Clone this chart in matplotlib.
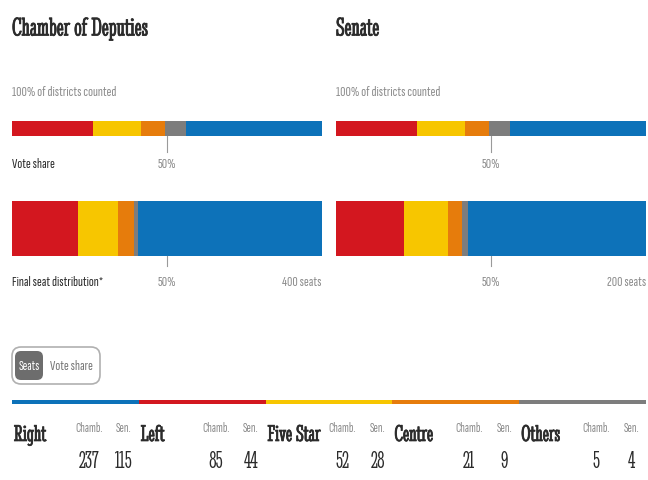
import matplotlib
matplotlib.use("Agg")
import matplotlib.pyplot as plt
from matplotlib import transforms
from matplotlib import patheffects
from matplotlib.patches import FancyBboxPatch

# Italian general election results
parties = ["Right", "Left", "Five Star", "Centre", "Others"]
chamber_seats = [237, 85, 52, 21, 5]
senate_seats = [115, 44, 28, 9, 4]
chamber_votes = [43.8, 26.1, 15.4, 7.8, 6.9]
senate_votes = [44.0, 26.0, 15.6, 7.7, 6.7]
chamber_total = 400
senate_total = 200

colors = {"Right": "#0d72b9", "Left": "#d3171f", "Five Star": "#f7c600",
          "Centre": "#e67c0c", "Others": "#7d7d7d"}
bar_order = ["Left", "Five Star", "Centre", "Others", "Right"]

SERIF = "Stint Ultra Condensed"
SANS = "Sofia Sans Extra Condensed"
GREY = "#8c8c8c"
DARK = "#2b2b2b"
# the serif only ships in one weight, so thicken it a little
heavy = [patheffects.withStroke(linewidth=0.5, foreground=DARK)]

W, H = 648, 481
fig = plt.figure(figsize=(W / 100, H / 100), dpi=100)

# overlay axes in pixel coordinates for the text furniture
bg = fig.add_axes([0, 0, 1, 1])
bg.set_xlim(0, W)
bg.set_ylim(H, 0)
bg.axis("off")


def box(x0, y0, x1, y1):
    return [x0 / W, 1 - y1 / H, (x1 - x0) / W, (y1 - y0) / H]


def stacked(ax, values, total):
    left = 0
    for p in bar_order:
        v = values[parties.index(p)]
        ax.barh(0, v, left=left, height=1, color=colors[p], linewidth=0)
        left += v
    ax.set_xlim(0, total)
    ax.set_ylim(-0.5, 0.5)
    ax.axis("off")


def half_mark(ax, total, y_top, y_bot, y_text, label="50%"):
    tr = transforms.blended_transform_factory(ax.transData, bg.transData)
    ax.plot([total / 2, total / 2], [y_top, y_bot], color="#9a9a9a", lw=0.8,
            transform=tr, clip_on=False)
    ax.text(total / 2, y_text, label, transform=tr, ha="center", va="center",
            family=SANS, weight="light", fontsize=10.5, color=GREY)


houses = [("Chamber of Deputies", 12, chamber_votes, chamber_seats, chamber_total),
          ("Senate", 336, senate_votes, senate_seats, senate_total)]

for title, x0, votes, seats, total in houses:
    bg.text(x0, 30, title, family=SERIF, fontsize=19, color=DARK, va="center",
            path_effects=heavy)
    bg.text(x0, 93, "100% of districts counted", family=SANS, weight="light",
            fontsize=10.5, color=GREY, va="center")

    ax_v = fig.add_axes(box(x0, 122, x0 + 310, 137))
    stacked(ax_v, votes, 100)
    half_mark(ax_v, 100, 137, 153, 165)

    ax_s = fig.add_axes(box(x0, 202, x0 + 310, 257))
    stacked(ax_s, seats, total)
    half_mark(ax_s, total, 257, 267, 283)
    bg.text(x0 + 310, 283, f"{total} seats", family=SANS, weight="light",
            fontsize=10.5, color=GREY, ha="right", va="center")

bg.text(12, 165, "Vote share", family=SANS, weight="bold", fontsize=10.5,
        color=DARK, va="center")
bg.text(12, 283, "Final seat distribution*", family=SANS, weight="bold",
        fontsize=10.5, color=DARK, va="center")

# seats / vote share toggle
bg.add_patch(FancyBboxPatch((12, 348), 88, 37, boxstyle="round,pad=0,rounding_size=9",
                            fc="white", ec="#b0b0b0", lw=1.2))
bg.add_patch(FancyBboxPatch((15, 352), 28, 29, boxstyle="round,pad=0,rounding_size=6",
                            fc="#6d6d6d", ec="none"))
bg.text(29, 366.5, "Seats", family=SANS, weight="bold", fontsize=10,
        color="white", ha="center", va="center")
bg.text(71, 366.5, "Vote share", family=SANS, weight="light", fontsize=10.5,
        color="#777777", ha="center", va="center")

# party key with seat counts
ax_k = fig.add_axes(box(12, 401, 646, 405))
ax_k.barh(0, [1] * len(parties), left=range(len(parties)), height=1,
          color=[colors[p] for p in parties], linewidth=0)
ax_k.set_xlim(0, len(parties))
ax_k.set_ylim(-0.5, 0.5)
ax_k.axis("off")

key_tr = transforms.blended_transform_factory(ax_k.transData, bg.transData)
for i, p in enumerate(parties):
    name_tr = transforms.offset_copy(key_tr, fig=fig, x=2, y=0, units="dots")
    bg.text(i, 436, p, transform=name_tr, family=SERIF, fontsize=17,
            color=DARK, va="center", path_effects=heavy)
    for label, dx, vals in [("Chamb.", 77, chamber_seats), ("Sen.", 112, senate_seats)]:
        tr = transforms.offset_copy(key_tr, fig=fig, x=dx, y=0, units="dots")
        bg.text(i, 429, label, transform=tr, family=SANS, fontsize=9.5,
                color=GREY, ha="center", va="center")
        bg.text(i, 462, str(vals[i]), transform=tr, family=SERIF, fontsize=17,
                color=DARK, ha="center", va="center")

fig.savefig("out.png", dpi=100)
